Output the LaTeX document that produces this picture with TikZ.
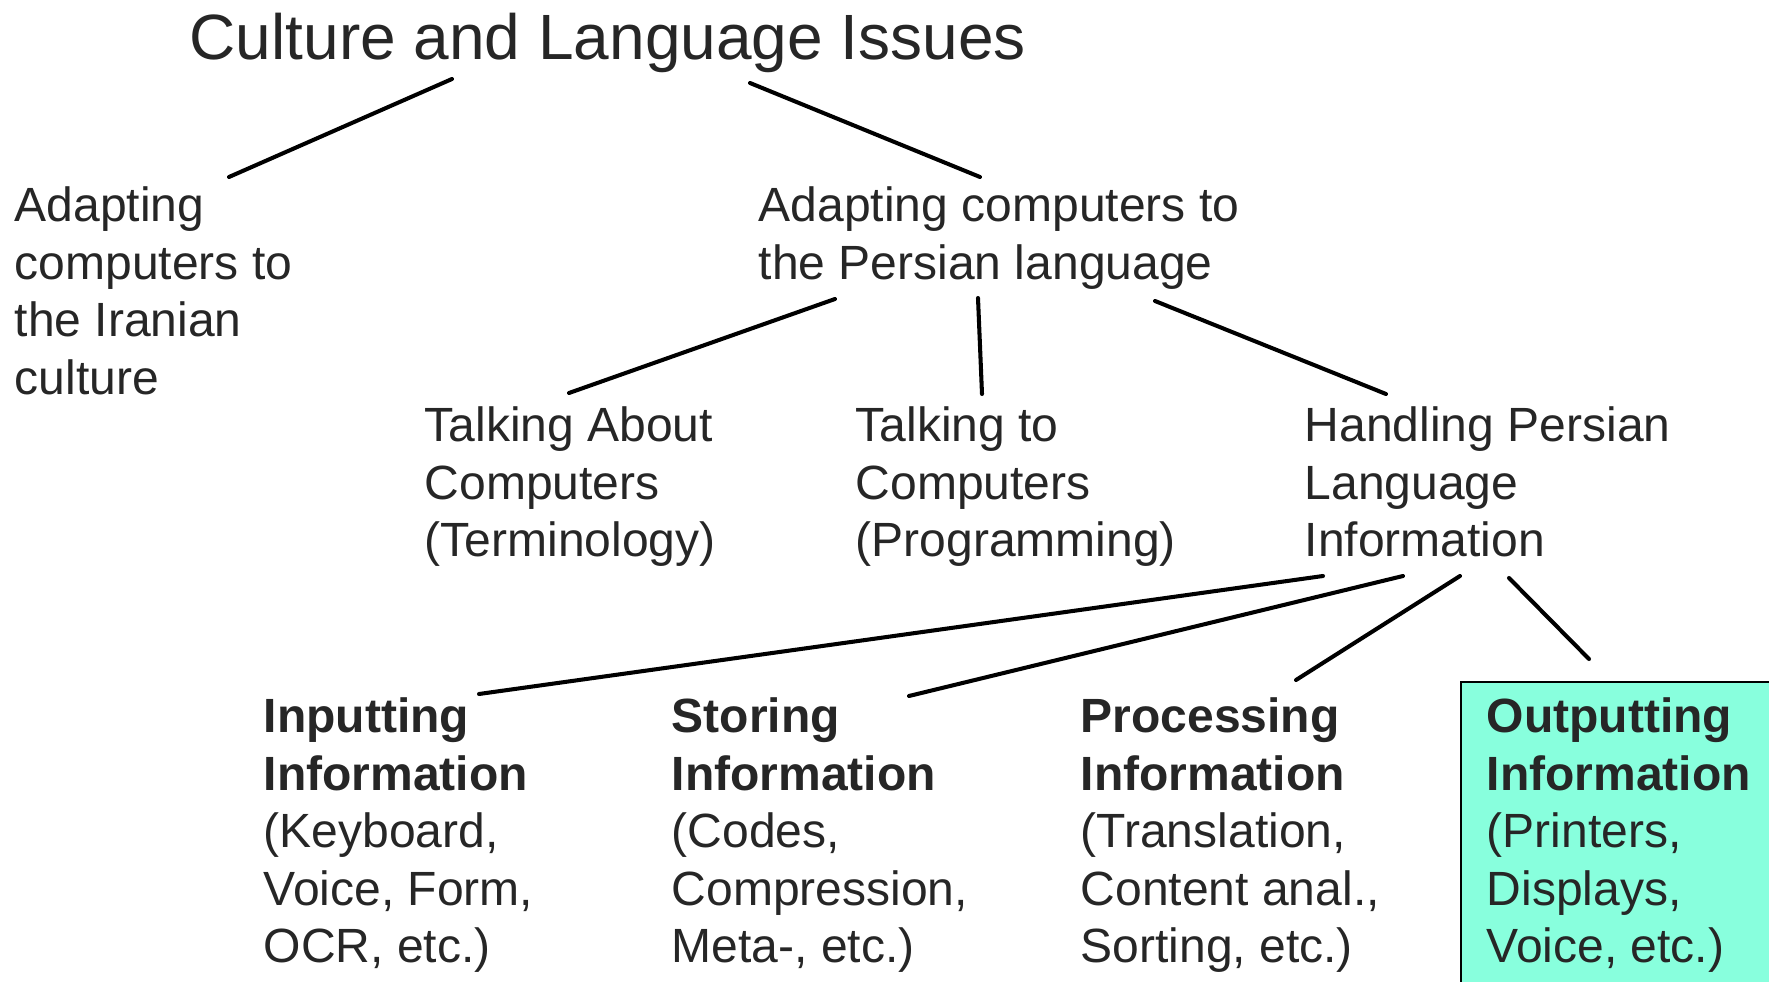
\documentclass[tikz,border=0pt]{standalone}
\usepackage{fontspec}
\setmainfont{Liberation Sans}
\definecolor{inktext}{RGB}{38,38,38}
\definecolor{outbox}{RGB}{136,255,221}

\begin{document}
\begin{tikzpicture}[x=0.01cm,y=-0.01cm,
  topic/.style={anchor=north west,inner sep=0pt,align=left,text=inktext,
    font=\fontsize{13.66}{16.36}\selectfont},
  branch/.style={line width=1.15pt,line cap=round}]
  \useasboundingbox (0,0) rectangle (1769,982);

  % Highlighted box for the output step
  \filldraw[fill=outbox,draw=black,line width=0.8pt] (1461,682) rectangle (1800,1010);

  % Title
  \node[topic,font=\fontsize{18.2}{21.8}\selectfont] (title) at (189,12) {Culture and Language Issues};

  % Second level
  \node[topic] (iran) at (14,186) {Adapting\\computers to\\the Iranian\\culture};
  \node[topic] (persian) at (758,186) {Adapting computers to\\the Persian language};

  % Third level
  \node[topic] (terms) at (424,406) {Talking About\\Computers\\(Terminology)};
  \node[topic] (prog) at (855,406) {Talking to\\Computers\\(Programming)};
  \node[topic] (handle) at (1304,406) {Handling Persian\\Language\\Information};

  % Fourth level
  \node[topic] (input) at (263,697) {\textbf{Inputting}\\\textbf{Information}\\(Keyboard,\\Voice, Form,\\OCR, etc.)};
  \node[topic] (store) at (671,697) {\textbf{Storing}\\\textbf{Information}\\(Codes,\\Compression,\\Meta-, etc.)};
  \node[topic] (process) at (1080,697) {\textbf{Processing}\\\textbf{Information}\\(Translation,\\Content anal.,\\Sorting, etc.)};
  \node[topic] (output) at (1486,697) {\textbf{Outputting}\\\textbf{Information}\\(Printers,\\Displays,\\Voice, etc.)};

  % Line ends
  \coordinate (title-l) at (452,79);
  \coordinate (title-r) at (750,83);
  \coordinate (iran-t) at (229,177);
  \coordinate (persian-t) at (980,177);
  \coordinate (persian-l) at (835,299);
  \coordinate (persian-m) at (978,298);
  \coordinate (persian-r) at (1155,301);
  \coordinate (terms-t) at (569,393);
  \coordinate (prog-t) at (982,394);
  \coordinate (handle-t) at (1386,394);
  \coordinate (handle-a) at (1323,576);
  \coordinate (handle-b) at (1403,576);
  \coordinate (handle-c) at (1460,576);
  \coordinate (handle-d) at (1509,578);
  \coordinate (input-t) at (479,694);
  \coordinate (store-t) at (909,696);
  \coordinate (process-t) at (1296,680);
  \coordinate (output-t) at (1589,659);

  % Branches
  \draw[branch] (title-l) -- (iran-t);
  \draw[branch] (title-r) -- (persian-t);
  \draw[branch] (persian-l) -- (terms-t);
  \draw[branch] (persian-m) -- (prog-t);
  \draw[branch] (persian-r) -- (handle-t);
  \draw[branch] (handle-a) -- (input-t);
  \draw[branch] (handle-b) -- (store-t);
  \draw[branch] (handle-c) -- (process-t);
  \draw[branch] (handle-d) -- (output-t);
\end{tikzpicture}
\end{document}
